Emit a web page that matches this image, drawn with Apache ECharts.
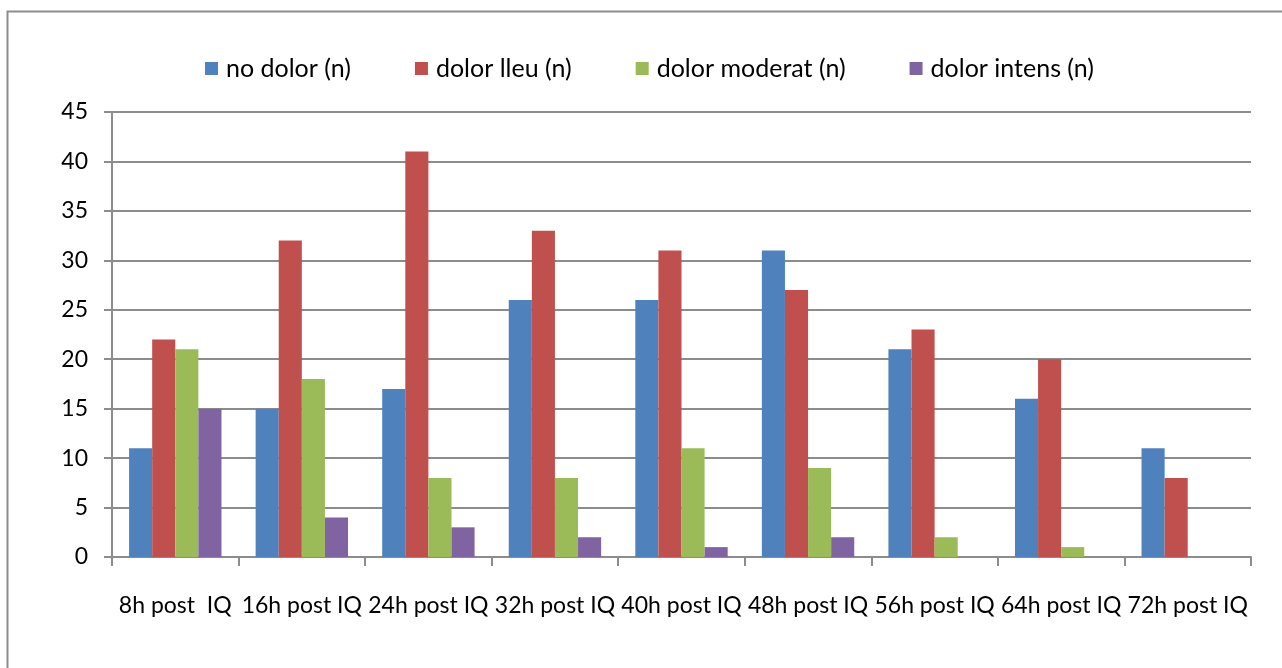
<!DOCTYPE html>
<html>
<head>
<meta charset="utf-8">
<script src="https://cdn.jsdelivr.net/npm/echarts@6/dist/echarts.min.js"></script>
<style>
  html, body { margin: 0; padding: 0; background: #fff; }
  #chart { width: 1282px; height: 668px; }
</style>
</head>
<body>
<div id="chart"></div>
<script>
// Time points after surgery
const categories = ['8h post  IQ', '16h post IQ', '24h post IQ', '32h post IQ', '40h post IQ',
                    '48h post IQ', '56h post IQ', '64h post IQ', '72h post IQ'];
// Patient counts by pain level
const noDolor      = [11, 15, 17, 26, 26, 31, 21, 16, 11];
const dolorLleu    = [22, 32, 41, 33, 31, 27, 23, 20, 8];
const dolorModerat = [21, 18, 8, 8, 11, 9, 2, 1, 0];
const dolorIntens  = [15, 4, 3, 2, 1, 2, 0, 0, 0];
const seriesNames  = ['no dolor (n)', 'dolor lleu (n)', 'dolor moderat (n)', 'dolor intens (n)'];

const FONT = 'Lato, "Open Sans", sans-serif';
const colors = ['#4F81BD', '#C0504D', '#9BBB59', '#8064A2'];

const chart = echarts.init(document.getElementById('chart'));
chart.setOption({
  animation: false,
  color: colors,
  textStyle: { fontFamily: FONT, color: '#000' },
  graphic: [{
    type: 'rect',
    shape: { x: 7.5, y: 11.5, width: 1300, height: 700 },
    style: { fill: 'none', stroke: '#8c8c8c', lineWidth: 2 },
    silent: true
  }],
  legend: {
    left: 200,
    top: 51,
    itemWidth: 13,
    itemHeight: 13,
    itemGap: 64,
    icon: 'rect',
    textStyle: { fontSize: 25, fontFamily: FONT, color: '#000', padding: [0, 0, 0, 3] },
    data: seriesNames
  },
  grid: { left: 112, right: 31, top: 112, bottom: 111 },
  xAxis: {
    type: 'category',
    data: categories,
    axisLine: { lineStyle: { color: '#8c8c8c', width: 2 } },
    axisTick: { show: true, length: 9, lineStyle: { color: '#8c8c8c', width: 2 } },
    axisLabel: { fontSize: 23, color: '#000', margin: 37, fontFamily: FONT, interval: 0 }
  },
  yAxis: {
    type: 'value',
    min: 0, max: 45, interval: 5,
    axisLine: { show: true, lineStyle: { color: '#8c8c8c', width: 2 } },
    axisTick: { show: true, length: 8, lineStyle: { color: '#8c8c8c', width: 2 } },
    axisLabel: { fontSize: 23, color: '#000', margin: 24, fontFamily: FONT },
    splitLine: { lineStyle: { color: '#8c8c8c', width: 2 } }
  },
  series: [noDolor, dolorLleu, dolorModerat, dolorIntens].map((d, i) => ({
    name: seriesNames[i],
    type: 'bar',
    data: d,
    barGap: '0%',
    barCategoryGap: '27%'
  }))
});
</script>
</body>
</html>
